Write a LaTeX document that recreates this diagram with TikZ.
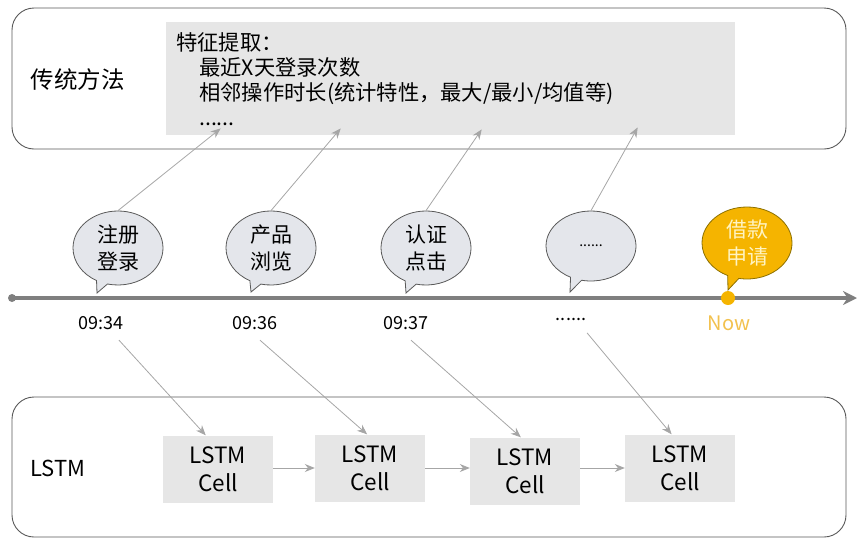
\documentclass[tikz,border=0pt]{standalone}
\usepackage{fontspec}
\setmainfont{Noto Sans CJK SC}
\usetikzlibrary{shapes.callouts, arrows.meta, positioning}
\definecolor{linegray}{HTML}{595959}
\definecolor{boxgray}{HTML}{E6E6E6}
\definecolor{bubblegray}{HTML}{E4E6EB}
\definecolor{conngray}{HTML}{A6A6A6}
\definecolor{axisgray}{HTML}{7F7F7F}
\definecolor{nowyellow}{HTML}{F5B400}
\definecolor{nowtext}{HTML}{F2C14E}
\definecolor{nowedge}{HTML}{8C7000}
\definecolor{nowlight}{HTML}{FFF4C2}
\tikzstyle{panel}     = [draw=linegray, line width=0.9pt, rounded corners=22pt]
\tikzstyle{featbox}   = [fill=boxgray, anchor=north west, minimum width=569pt, minimum height=113pt, text width=549pt, inner xsep=10pt, align=left, font=\fontsize{21.3}{25}\selectfont]
\tikzstyle{bubble}    = [ellipse callout, draw=linegray, fill=bubblegray, line width=0.8pt, minimum width=90pt, minimum height=74pt, inner sep=0.5pt, align=center, font=\fontsize{21}{27}\selectfont]
\tikzstyle{timelabel} = [font=\fontsize{18}{20}\selectfont]
\tikzstyle{cellbox}   = [fill=boxgray, minimum width=110pt, minimum height=67pt, inner sep=1pt, align=center, font=\fontsize{22.5}{28}\selectfont]
\tikzstyle{conn}      = [draw=conngray, line width=0.8pt, -{Stealth[length=10pt,width=8pt]}]
\tikzstyle{axis}      = [draw=axisgray, line width=3.5pt, -{Stealth[length=14pt,width=14pt]}]
\tikzstyle{dot}       = [circle, inner sep=0pt, minimum size=8pt, fill=axisgray]

\begin{document}
\begin{tikzpicture}[
        x=1pt,
        y=-1pt
    ]
        \useasboundingbox (0,0) rectangle (860,544);

        % 传统方法
        \draw[panel] (12,8) rectangle (846,149);
        \node[anchor=west, font=\fontsize{23.5}{25}\selectfont] (trad) at (27,80) {传统方法};
        \node[featbox] (feat) at (166,22)
            {特征提取：\\
            \hspace*{23pt}最近X天登录次数\\
            \hspace*{23pt}相邻操作时长(统计特性，最大/最小/均值等)\\
            \hspace*{23pt}......};

        % 时间轴
        \node[dot] (origin) at (12,298) {};
        \coordinate (axisend) at (857,298);
        \draw[axis] (origin.center) -- (axisend);
        \node[dot, minimum size=14pt, fill=nowyellow] (nowdot) at (728,298) {};

        % 用户行为
        \node[bubble, callout absolute pointer={(97,293)}] (b1) at (118,248) {注册\\登录};
        \node[bubble, callout absolute pointer={(251,292)}] (b2) at (271,248) {产品\\浏览};
        \node[bubble, callout absolute pointer={(406,293)}] (b3) at (426,248) {认证\\点击};
        \node[bubble, callout absolute pointer={(570,292)}, minimum height=70pt, font=\fontsize{14}{16}\selectfont] (b4) at (591,246) {......};
        \node[bubble, callout absolute pointer={(728,290)}, fill=nowyellow, draw=nowedge, text=nowlight, minimum height=72pt] (b5) at (747,243) {借款\\申请};

        % 时间
        \node[timelabel] (t1) at (101,323) {09:34};
        \node[timelabel] (t2) at (255,323) {09:36};
        \node[timelabel] (t3) at (406,323) {09:37};
        \node[timelabel] (t4) at (571,319) {......};
        \node[timelabel, font=\fontsize{20}{22}\selectfont, text=nowtext] (now) at (729,323) {Now};

        % 行为 -> 特征
        \draw[conn] (b1.north) -- ([shift={(-230,-7)}]feat.south);
        \draw[conn] (b2.north) -- ([shift={(-110,-7)}]feat.south);
        \draw[conn] (b3.north) -- ([shift={(31,-6)}]feat.south);
        \draw[conn] (b4.north) -- ([shift={(187,-8)}]feat.south);

        % LSTM
        \draw[panel] (12,397) rectangle (846,537);
        \node[anchor=west, font=\fontsize{22}{24}\selectfont] (lstm) at (27,468) {LSTM};
        \node[cellbox] (c1) at (218,469) {LSTM\\Cell};
        \node[cellbox] (c2) at (370,468) {LSTM\\Cell};
        \node[cellbox] (c3) at (525,471) {LSTM\\Cell};
        \node[cellbox] (c4) at (680,468) {LSTM\\Cell};

        \draw[conn] (c1.east |- 0,468) -- (c2.west |- 0,468);
        \draw[conn] (c2.east |- 0,468) -- (c3.west |- 0,468);
        \draw[conn] (c3.east |- 0,468) -- (c4.west |- 0,468);

        % 时间 -> LSTM
        \draw[conn] ([shift={(18,7)}]t1.south) -- (c1.110);
        \draw[conn] ([shift={(5,7)}]t2.south) -- (c2.95);
        \draw[conn] ([shift={(5,7)}]t3.south) -- (c3.97);
        \draw[conn] ([shift={(16,9)}]t4.south) -- (c4.104);

    \end{tikzpicture}
\end{document}
